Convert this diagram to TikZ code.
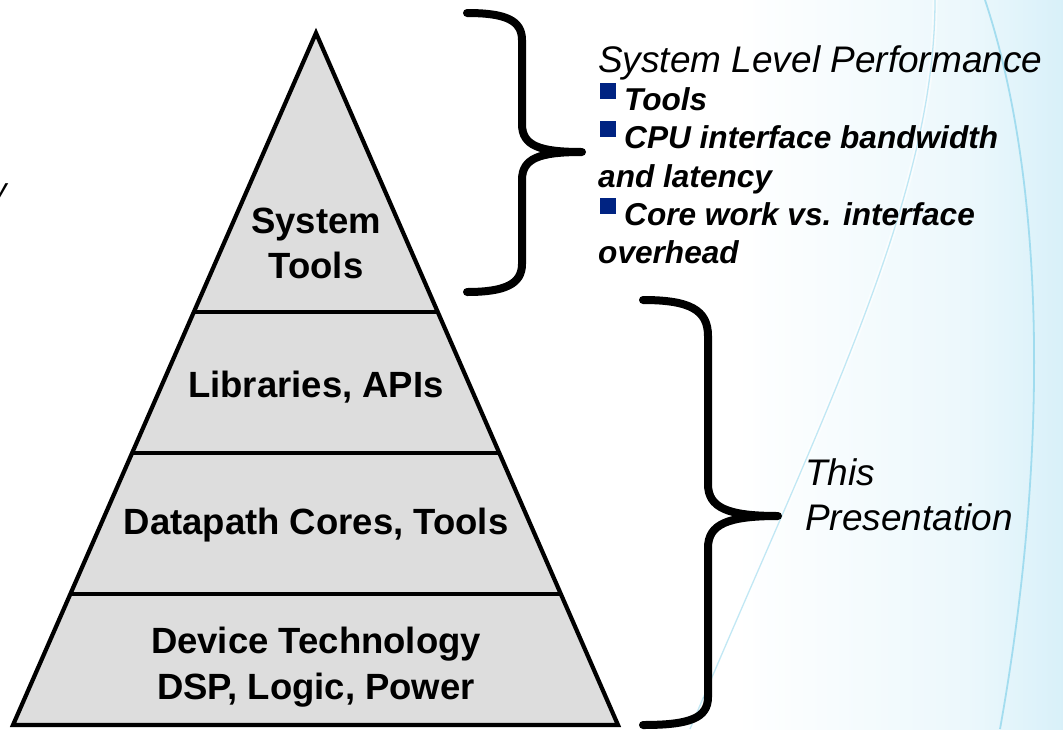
\documentclass[tikz,border=0pt]{standalone}
\usepackage{fontspec}
\setmainfont{Liberation Sans}
\usetikzlibrary{calc}

\definecolor{tiergray}{RGB}{221,221,221}
\definecolor{bulletblue}{RGB}{0,35,130}
\definecolor{skycyan}{RGB}{178,226,243}
\definecolor{streak}{RGB}{120,205,232}
\pgfdeclarehorizontalshading{bgwash}{100bp}{color(0bp)=(white); color(30bp)=(white); color(62bp)=(white!75!skycyan); color(100bp)=(skycyan)}

\begin{document}
\begin{tikzpicture}[x=1pt,y=-1pt,
  outline/.style={line width=4.2, line join=miter},
  tierlabel/.style={font=\fontsize{36.5}{45}\selectfont\bfseries, align=center, inner sep=0, anchor=base},
  headtext/.style={font=\fontsize{37}{44}\selectfont\itshape, inner sep=0, anchor=base west},
  itemtext/.style={font=\fontsize{31.6}{38}\selectfont\bfseries\itshape, inner sep=0, anchor=base west},
  bulletsq/.style={fill=bulletblue, minimum size=16, inner sep=0, anchor=north west},
  brace/.style={line width=8, line cap=round, line join=round},
  faint/.style={streak, opacity=0.45}
]
\useasboundingbox (0,0) rectangle (1063,729);

% background: white with a pale sky-blue wash towards the right edge
\fill[white] (0,0) rectangle (1063,729);
\shade[shading=bgwash] (700,0) rectangle (1063,729);
\draw[white, line width=5, opacity=0.6] (935,0) .. controls (935,200) and (820,420) .. (690,729);
\draw[faint, line width=1.3] (935,0) .. controls (935,200) and (820,420) .. (690,729);
\draw[faint, line width=1.8, opacity=0.6] (985,0) .. controls (1045,180) and (1050,450) .. (1000,729);

% partly visible letter at the left border
\node[font=\fontsize{30}{36}\selectfont\itshape, inner sep=0, anchor=base east] (edgey) at (7,199) {y};

% pyramid
\coordinate (apex) at (316,33);
\coordinate (bl) at (13,725);
\coordinate (br) at (618,725);
\filldraw[fill=tiergray, outline] (apex) -- (br) -- (bl) -- cycle;
\foreach \t/\k in {0.4032/1, 0.6069/2, 0.8107/3}{
  \coordinate (l\k) at ($(apex)!\t!(bl)$);
  \coordinate (r\k) at ($(apex)!\t!(br)$);
  \draw[outline] (l\k) -- (r\k);
}

\node[tierlabel] (tsys1) at (316,233) {System};
\node[tierlabel] (tsys2) at (316,278) {Tools};
\node[tierlabel] (tlib)  at (316,397) {Libraries, APIs};
\node[tierlabel] (tdp)   at (316,534) {Datapath Cores, Tools};
\node[tierlabel] (tdev1) at (316,653) {Device Technology};
\node[tierlabel] (tdev2) at (316,699) {DSP, Logic, Power};

% upper brace
\draw[brace] (467,13) .. controls (505,13) and (522,20) .. (522,40)
  -- (522,124) .. controls (522,146) and (540,152) .. (582,152)
  .. controls (540,152) and (522,158) .. (522,180)
  -- (522,264) .. controls (522,284) and (505,292) .. (467,292);

% lower brace
\draw[brace] (643,300) .. controls (690,300) and (708,310) .. (708,336)
  -- (708,484) .. controls (708,508) and (728,516) .. (778,516)
  .. controls (728,516) and (708,524) .. (708,548)
  -- (708,697) .. controls (708,718) and (690,725) .. (643,725);

% system level notes
\node[headtext] (head) at (598,72) {System Level Performance};
\node[bulletsq] (sq1) at (600,83) {};
\node[itemtext] (it1) at (624,110) {Tools};
\node[bulletsq] (sq2) at (600,121) {};
\node[itemtext] (it2) at (624,148) {CPU interface bandwidth};
\node[itemtext] (it2b) at (598,187) {and latency};
\node[bulletsq] (sq3) at (600,198) {};
\node[itemtext] (it3) at (624,225) {Core work vs. interface};
\node[itemtext] (it3b) at (598,263) {overhead};

% lower brace label
\node[headtext] (this1) at (805,485) {This};
\node[headtext] (this2) at (805,530) {Presentation};
\end{tikzpicture}
\end{document}
